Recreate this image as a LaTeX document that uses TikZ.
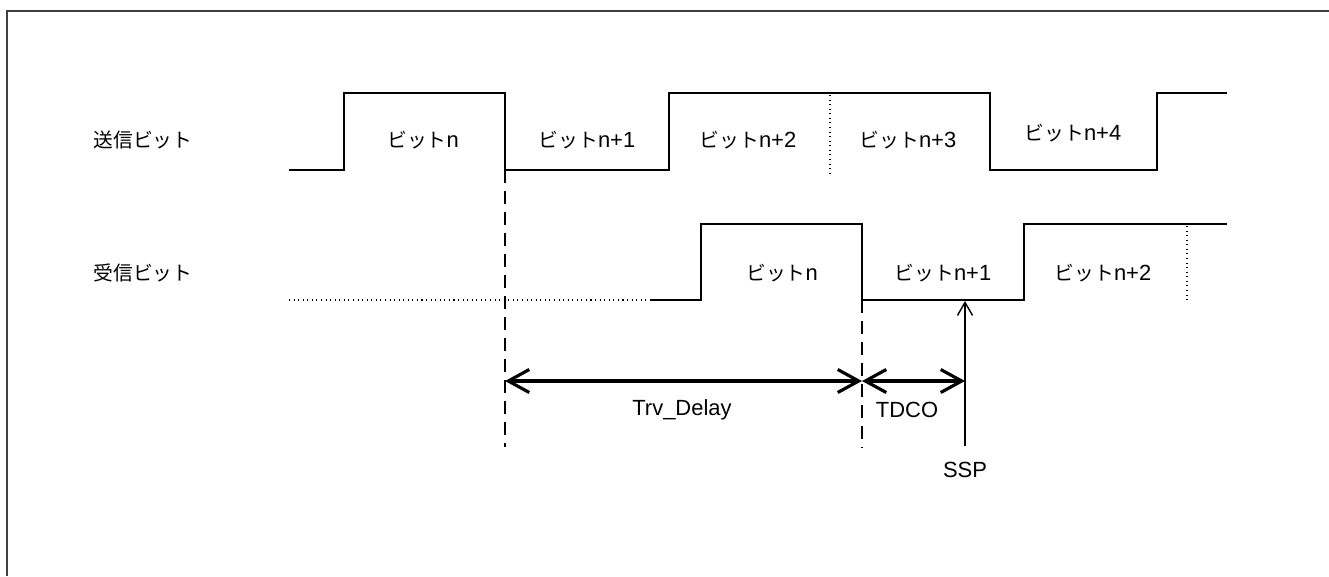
\documentclass[tikz,border=0pt]{standalone}
\usepackage{fontspec}
\setmainfont{Liberation Sans}
\newfontfamily\jp{Noto Sans CJK JP}[Scale=0.9]
\usetikzlibrary{arrows.meta}

\tikzset{
  wave/.style={line width=1.1pt},
  dimline/.style={line width=1.8pt, {Straight Barb[length=0.42cm,width=0.46cm,line width=1.8pt]}-{Straight Barb[length=0.42cm,width=0.46cm,line width=1.8pt]}},
  guide/.style={line width=0.9pt, dash pattern=on 0.26cm off 0.16cm},
  dots/.style={line width=0.7pt, dash pattern=on 0.6pt off 2pt},
}

\begin{document}
\begin{tikzpicture}[x=0.02cm,y=-0.02cm, font=\fontsize{12.5}{14}\selectfont]
\useasboundingbox (0,0) rectangle (1329,576);
% frame
\draw[black!75, line width=1.1pt] (7,576) -- (7,11) -- (1329,11);

% send bits
\node at (143,140) {\jp 送信ビット};
\draw[wave] (289,170) -- (344,170) -- (344,93) -- (505,93) -- (505,170)
  -- (669,170) -- (669,93) -- (990,93) -- (990,170) -- (1157,170)
  -- (1157,93) -- (1227,93);
\draw[dots] (830,95) -- (830,173);
\node at (423,140) {{\jp ビット}n};
\node at (587,140) {{\jp ビット}n+1};
\node at (748,140) {{\jp ビット}n+2};
\node at (908,140) {{\jp ビット}n+3};
\node at (1073,133) {{\jp ビット}n+4};

% receive bits
\node at (143,273) {\jp 受信ビット};
\draw[dots] (289,300) -- (650,300);
\draw[wave] (650,300) -- (701,300) -- (701,224) -- (862,224) -- (862,300)
  -- (1024,300) -- (1024,224) -- (1227,224);
\draw[dots] (1187,226) -- (1187,302);
\node at (782,273) {{\jp ビット}n};
\node at (943,273) {{\jp ビット}n+1};
\node at (1103,273) {{\jp ビット}n+2};

% delays
\coordinate (txedge) at (505,170);
\coordinate (rxedge) at (862,300);
\coordinate (d0) at (505,381);
\coordinate (d1) at (862,381);
\coordinate (d2) at (965,381);
\draw[guide] (txedge) -- (505,447);
\draw[guide] (rxedge) -- (862,447);
\draw[dimline] (d0) -- (d1);
\draw[dimline] (d1) -- (d2);
\node at (682,410) {Trv\_Delay};
\node at (907,410) {TDCO};

\node (ssp) at (965,470) {SSP};
\draw[line width=0.8pt, -{Straight Barb[length=0.26cm,width=0.3cm]}] (965,446) -- (965,301);
\end{tikzpicture}
\end{document}
